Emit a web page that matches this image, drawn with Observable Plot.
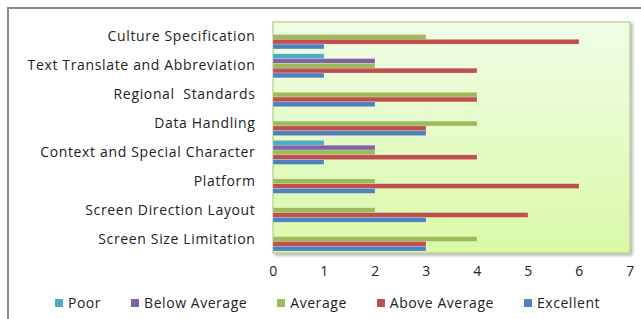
<!DOCTYPE html>
<html>
<head>
<meta charset="utf-8">
<script src="https://cdn.jsdelivr.net/npm/d3@7"></script>
<script src="https://cdn.jsdelivr.net/npm/@observablehq/plot@0.6"></script>
<style>
  html, body { margin: 0; padding: 0; background: #fff; }
  body { width: 641px; height: 319px; overflow: hidden; position: relative; font-family: "Open Sans", sans-serif; }
  #border { position: absolute; left: 7px; top: 7px; width: 700px; height: 400px; border: 2px solid #8a8a8a; border-right: none; border-bottom: none; box-sizing: border-box; }
  #chart { position: absolute; left: 0; top: 0; }
  #chart svg text { letter-spacing: 0.65px; }
  #legend { position: absolute; left: 7px; top: 293px; width: 641px; display: flex; justify-content: center; font-size: 14px; letter-spacing: 0.55px; color: #222; }
  #legend .item { display: flex; align-items: center; margin: 0 15px; }
  #legend .sw { width: 8px; height: 8px; margin-right: 5px; }
</style>
</head>
<body>
<div id="border"></div>
<div id="chart"></div>
<div id="legend"></div>
<script>
const categories = [
  "Culture Specification",
  "Text Translate and Abbreviation",
  "Regional  Standards",
  "Data Handling",
  "Context and Special Character",
  "Platform",
  "Screen Direction Layout",
  "Screen Size Limitation"
];
const seriesNames = ["Poor", "Below Average", "Average", "Above Average", "Excellent"];
const seriesColors = ["#4bacc6", "#8064a2", "#9bbb59", "#c0504d", "#4f81bd"];
// values per category, in the order of `categories`
const poor         = [0, 1, 0, 0, 1, 0, 0, 0];
const belowAverage = [0, 2, 0, 0, 2, 0, 0, 0];
const average      = [3, 2, 4, 4, 2, 2, 2, 4];
const aboveAverage = [6, 4, 4, 3, 4, 6, 5, 3];
const excellent    = [1, 1, 2, 3, 1, 2, 3, 3];
const xTicks = [0, 1, 2, 3, 4, 5, 6, 7];

const seriesValues = [poor, belowAverage, average, aboveAverage, excellent];
const data = [];
categories.forEach((c, i) => {
  seriesNames.forEach((s, j) => {
    data.push({category: c, series: s, value: seriesValues[j][i]});
  });
});

const plot = Plot.plot({
  width: 641,
  height: 282,
  marginLeft: 273,
  marginRight: 11,
  marginTop: 22,
  marginBottom: 29,
  style: {background: "transparent", fontFamily: "'Open Sans', sans-serif", fontSize: "14px", color: "#222"},
  x: {domain: [0, 7], ticks: xTicks, tickSize: 0, tickPadding: 13, label: null, tickFormat: d => String(d)},
  y: {domain: seriesNames, axis: null, paddingInner: 0, paddingOuter: 0.5, align: 0.6, round: false},
  fy: {domain: categories, padding: 0, round: false, axis: "left", label: null, tickSize: 0, tickPadding: 18},
  color: {domain: seriesNames, range: seriesColors},
  marks: [
    Plot.barX(data, {
      fy: "category", y: "series", x: "value", fill: "series",
      stroke: "rgba(255,255,255,0.35)", strokeWidth: 0.6
    })
  ]
});
document.getElementById("chart").appendChild(plot);

// background plot area, sized from the library's own scales
const xr = plot.scale("x").range;
const fyr = plot.scale("fy").range;
const svgNS = "http://www.w3.org/2000/svg";
const defs = document.createElementNS(svgNS, "defs");
defs.innerHTML = `<linearGradient id="bgGrad" x1="0" y1="0" x2="0" y2="1">
  <stop offset="0" stop-color="#f1fde6"/>
  <stop offset="1" stop-color="#d9f9a8"/>
</linearGradient>
<filter id="sh" x="-5%" y="-5%" width="115%" height="115%">
  <feDropShadow dx="2" dy="2" stdDeviation="1.5" flood-color="#000" flood-opacity="0.3"/>
</filter>`;
const rect = document.createElementNS(svgNS, "rect");
rect.setAttribute("x", Math.min(...xr));
rect.setAttribute("y", Math.min(...fyr));
rect.setAttribute("width", Math.abs(xr[1] - xr[0]));
rect.setAttribute("height", Math.abs(fyr[1] - fyr[0]));
rect.setAttribute("fill", "url(#bgGrad)");
rect.setAttribute("stroke", "#b3cf87");
rect.setAttribute("stroke-width", "1.2");
rect.setAttribute("filter", "url(#sh)");
const svg = plot.tagName.toLowerCase() === "svg" ? plot : plot.querySelector("svg");
svg.insertBefore(rect, svg.firstChild);
svg.insertBefore(defs, svg.firstChild);

// legend
const legend = document.getElementById("legend");
seriesNames.forEach((s, i) => {
  const item = document.createElement("div");
  item.className = "item";
  const sw = document.createElement("span");
  sw.className = "sw";
  sw.style.background = seriesColors[i];
  const t = document.createElement("span");
  t.textContent = s;
  item.appendChild(sw);
  item.appendChild(t);
  legend.appendChild(item);
});
</script>
</body>
</html>
